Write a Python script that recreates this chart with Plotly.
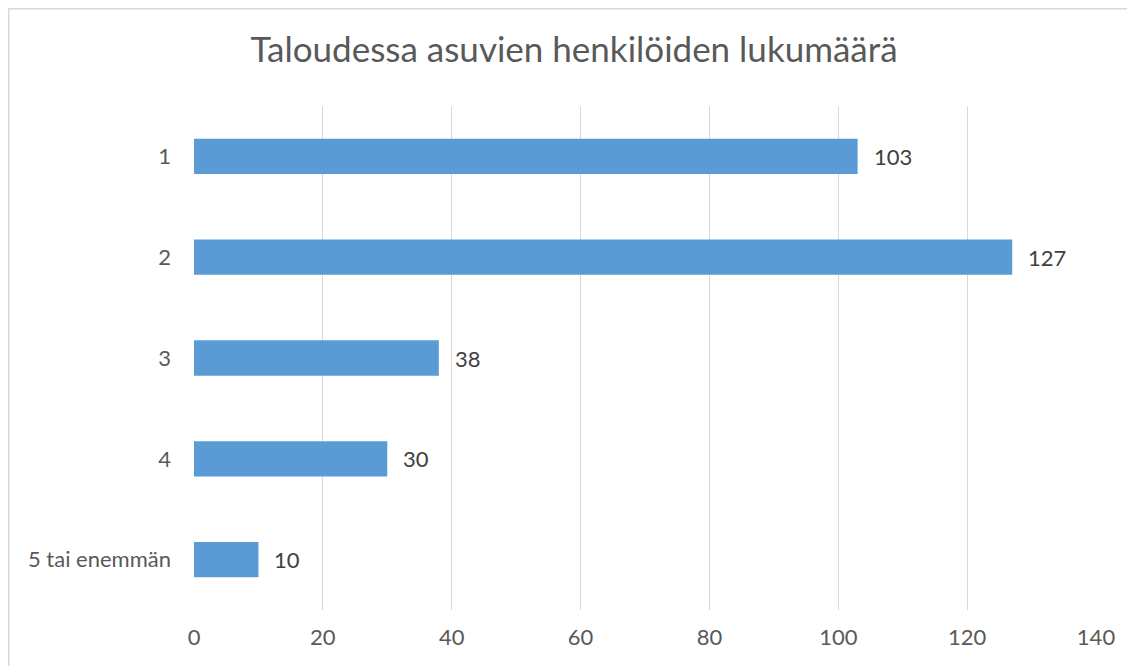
import plotly.graph_objects as go

categories = ["1", "2", "3", "4", "5 tai enemmän"]
values = [103, 127, 38, 30, 10]
x_ticks = [0, 20, 40, 60, 80, 100, 120, 140]
title_text = "Taloudessa asuvien henkilöiden lukumäärä"

# page body has an 8px default margin, so the figure is drawn offset by 8px
OFF = 8
W, H = 1135 - OFF, 666 - OFF
L, T = 194 - OFF, 106 - OFF
pw, ph = 902, 504
R = W - L - pw
B = H - T - ph

font_family = "Lato, 'Open Sans', sans-serif"

fig = go.Figure()
fig.add_trace(go.Bar(
    x=values, y=list(range(len(categories))), orientation="h",
    marker=dict(color="#5B9BD5", line=dict(width=0)),
    width=0.35, hoverinfo="skip",
))

for i, v in enumerate(values):
    fig.add_annotation(x=v, y=i, text=str(v), showarrow=False,
                       xanchor="left", xshift=14,
                       font=dict(size=22, color="#404040", family=font_family))

def px_x(p):
    return (p - L) / pw

def px_y(p):
    return (H - B - p) / ph

# chart border (light gray frame)
fig.add_shape(type="line", xref="paper", yref="paper",
              x0=px_x(0), x1=px_x(1119), y0=px_y(0.8), y1=px_y(0.8),
              line=dict(color="#D9D9D9", width=1.5))
fig.add_shape(type="line", xref="paper", yref="paper",
              x0=px_x(0.8), x1=px_x(0.8), y0=px_y(0), y1=px_y(H + 5),
              line=dict(color="#D9D9D9", width=1.5))

fig.update_layout(
    width=W, height=H,
    margin=dict(l=L, r=R, t=T, b=B, autoexpand=False),
    paper_bgcolor="white", plot_bgcolor="white",
    showlegend=False,
    title=dict(text=title_text, xref="container", x=(574 - OFF) / W, xanchor="center",
               yref="container", y=1 - 42 / H, yanchor="middle",
               font=dict(size=35, color="#595959", family=font_family)),
    xaxis=dict(range=[0, 140], tickvals=x_ticks, showgrid=True, automargin=False,
               gridcolor="#D9D9D9", gridwidth=1, zeroline=False, showline=False,
               ticks="", ticklabelstandoff=12,
               tickfont=dict(size=22, color="#595959", family=font_family)),
    yaxis=dict(range=[4.5, -0.5], tickvals=list(range(len(categories))),
               ticktext=categories, automargin=False,
               showgrid=False, zeroline=False, showline=False, ticks="",
               ticklabelstandoff=22,
               tickfont=dict(size=22, color="#595959", family=font_family)),
)

fig.write_html("out.html")
